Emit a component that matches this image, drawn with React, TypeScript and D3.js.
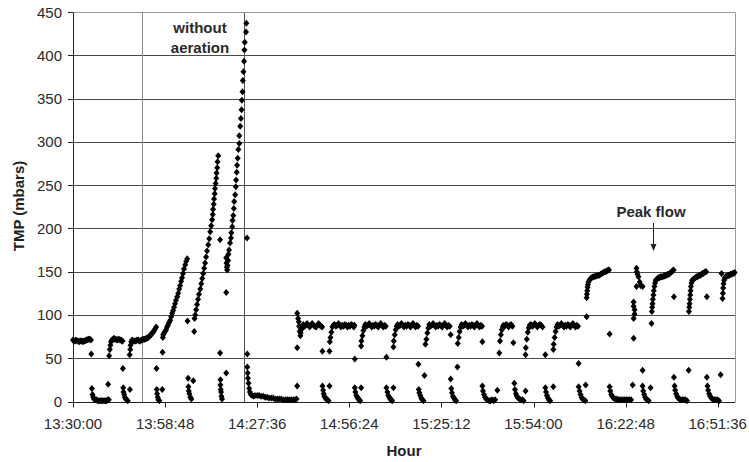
import React, { useEffect, useRef } from 'react';
import * as d3 from 'd3';

type Pt = [number, number];

// time = minutes after 13:30:00, value = TMP in mbars
const startPhase: Pt[] = [
  [0.0,71],[0.3,70],[0.6,70],[0.9,71],[1.3,70],[1.6,70],[1.9,69],[2.2,70],[2.5,70],[2.8,70],[3.1,69],[3.4,70],[3.8,70],[4.1,71],[4.4,71],[4.7,72],[5.0,72],[5.3,72],[5.6,71],
  [5.7,55],[5.9,15],[6.1,8],[6.3,5],[6.6,3],[6.9,2],[7.3,2],[7.7,1],[8.1,1],[8.5,1],[8.9,1],[9.3,1],[9.7,1],[10.1,1],[10.5,1],[10.9,2],[11.2,2],[11.0,20],
  [11.3,53],[11.5,60],[11.7,65],[11.9,69],[12.2,71],[12.5,72],[12.8,73],[13.1,72],[13.4,72],[13.8,71],[14.1,72],[14.4,72],[14.7,71],[15.0,71],[15.3,70],[15.5,70],
  [15.6,38],[15.7,16],[15.8,11],[16.0,8],[16.2,5],[16.5,3],[16.8,2],[17.1,1],[17.8,14],
  [17.7,54],[17.9,60],[18.0,65],[18.2,69],[18.5,71],[18.8,70],[19.1,70],[19.4,70],[19.7,70],[20.0,71],[20.4,71],[20.7,70],[21.0,70],[21.3,71],[21.6,71],[21.9,72],[22.2,72],[22.5,72],[22.9,73],[23.2,73],[23.5,74],[23.8,75],[24.1,76],[24.4,77],[24.7,79],[25.1,80],[25.4,82],[25.7,84],[26.0,86],
  [26.1,38],[26.2,14],[26.3,9],[26.5,5],[26.7,2],[27.0,1],[27.9,14],[28.0,57],
];

const aerationOff: Pt[] = [
  [28.1,74],[28.2,77],[28.5,79],[28.8,81],[29.1,83],[29.4,86],[29.7,88],[30.0,91],[30.4,94],[30.7,98],[31.0,102],[31.3,105],[31.6,109],[31.9,113],[32.2,117],[32.6,121],[32.9,125],[33.2,130],[33.5,134],[33.8,139],[34.1,143],[34.4,148],[34.7,153],[35.1,158],[35.4,162],[35.7,165],
  [35.8,93],[36.0,27],[36.1,17],[36.2,12],[36.4,9],[36.7,5],[37.0,3],[37.6,24],[37.9,81],
  [38.0,96],[38.2,100],[38.5,106],[38.8,112],[39.1,118],[39.4,124],[39.8,130],[40.1,136],[40.4,142],[40.7,148],[41.0,154],[41.3,160],[41.6,167],[41.9,174],[42.3,181],[42.6,188],[42.9,196],[43.2,203],[43.5,210],[43.7,216],[43.8,222],[44.0,228],[44.1,234],[44.3,240],[44.4,246],[44.6,252],[44.8,258],[44.9,264],[45.1,270],[45.2,277],[45.4,284],
  [46.0,187],[46.0,56],[46.1,25],[46.1,19],[46.2,14],[46.3,11],[46.4,6],[46.6,3],[47.9,126],[47.9,33],
  [47.9,166],[48.0,160],[48.1,155],[48.2,152],[48.3,157],[48.5,163],[48.6,170],[48.8,175],[49.1,183],[49.4,189],[49.5,195],[49.8,202],[49.9,209],[50.1,215],[50.3,223],[50.4,231],[50.7,239],[50.9,248],[51.0,256],[51.2,265],[51.3,273],[51.5,281],[51.7,291],[52.0,298],[52.0,307],[52.3,318],[52.5,327],[52.7,337],[52.8,348],[53.0,358],[53.1,371],[53.3,381],[53.5,393],[53.6,406],[53.7,415],[54.1,427],[54.2,437],
];

const recovery: Pt[] = [
  [54.4,189],[54.5,55],[54.5,40],[54.6,33],[54.7,27],[54.9,21],[55.1,15],[55.3,11],[55.6,8],[56.0,7],[56.5,6],[56.9,7],[57.6,7],[58.2,7],[58.8,6],[59.5,6],[60.1,5],[60.7,5],[61.3,4],[62.0,4],[62.6,4],[63.2,3],[63.9,3],[64.5,3],[65.1,3],[65.7,2],[66.4,2],[67.0,2],[67.6,2],[68.2,2],[68.9,2],[69.5,2],[69.9,3],
];

const normalCycles: Pt[] = [
  [70.1,18],[70.1,62],[70.1,102],[70.4,96],[70.6,92],[70.7,87],[70.9,81],[71.1,76],[71.2,79],[71.4,83],[71.7,86],[72.0,89],[72.4,87],[72.8,88],[73.2,90],[73.6,88],[74.0,86],[74.4,88],[74.8,90],[75.2,88],[75.6,87],[76.0,86],[76.4,88],[76.8,90],[77.2,88],[77.6,87],[77.9,86],
  [78.0,58],[78.0,18],[78.2,13],[78.4,9],[78.6,6],[78.9,4],[79.2,3],[79.5,2],[79.9,1],[80.2,18],[80.2,58],
  [80.3,69],[80.5,74],[80.8,80],[81.1,86],[81.4,88],[81.8,89],[82.2,87],[82.6,88],[83.0,90],[83.4,88],[83.8,86],[84.2,88],[84.6,87],[85.0,89],[85.4,88],[85.8,86],[86.2,88],[86.6,87],[87.0,89],[87.4,88],[87.8,86],[88.0,88],
  [88.1,49],[88.1,16],[88.3,11],[88.6,7],[88.9,5],[89.2,3],[89.5,2],[89.8,1],[90.1,16],[90.1,64],
  [90.2,70],[90.5,76],[90.8,82],[91.1,86],[91.4,89],[91.8,87],[92.2,88],[92.6,90],[93.0,88],[93.4,86],[93.8,88],[94.2,87],[94.6,89],[95.0,88],[95.4,86],[95.8,88],[96.2,90],[96.6,88],[97.0,86],[97.4,88],[97.8,87],
  [98.0,51],[98.0,16],[98.3,11],[98.6,7],[98.9,5],[99.2,3],[99.5,2],[99.8,1],[100.2,16],[100.2,63],
  [100.3,70],[100.6,77],[100.9,83],[101.2,87],[101.5,89],[101.9,87],[102.3,88],[102.7,90],[103.1,88],[103.5,86],[103.9,88],[104.3,87],[104.7,89],[105.1,88],[105.5,86],[105.9,88],[106.3,90],[106.7,88],[107.1,86],[107.5,88],[107.9,87],
  [108.0,43],[108.1,14],[108.3,10],[108.6,7],[108.9,4],[109.2,2],[109.6,1],[109.9,30],
  [110.2,66],[110.5,72],[110.8,79],[111.1,85],[111.4,89],[111.8,87],[112.2,88],[112.6,90],[113.0,88],[113.4,86],[113.8,88],[114.2,87],[114.6,89],[115.0,88],[115.4,86],[115.8,88],[116.2,90],[116.6,88],[117.0,86],[117.4,88],[117.8,87],
  [118.1,77],[118.1,26],[118.3,15],[118.5,10],[118.8,6],[119.1,4],[119.4,2],[119.8,1],[120.2,40],
  [120.3,67],[120.6,74],[120.9,81],[121.2,86],[121.5,89],[121.9,87],[122.3,88],[122.7,90],[123.1,88],[123.5,86],[123.9,88],[124.3,87],[124.7,89],[125.1,88],[125.5,86],[125.9,88],[126.3,90],[126.7,88],[127.1,86],[127.5,88],[127.9,87],
  [128.0,69],[128.0,18],[128.2,12],[128.5,8],[128.8,5],[129.2,3],[129.6,2],[130.1,1],[130.6,1],[131.0,2],[131.5,1],[132.0,2],[132.7,13],
  [133.3,56],[133.5,70],[133.8,77],[134.1,83],[134.4,86],[134.6,88],[135.0,87],[135.4,89],[135.8,88],[136.2,86],[136.6,88],[137.0,89],[137.4,87],
  [137.7,68],[138.0,21],[138.2,14],[138.5,9],[138.8,6],[139.2,4],[139.6,3],[140.0,2],[140.5,2],[140.9,1],[141.5,12],[141.5,54],
  [141.6,62],[141.9,72],[142.2,80],[142.5,85],[142.8,88],[143.2,89],[143.6,87],[144.0,88],[144.4,90],[144.8,88],[145.2,86],[145.6,88],[146.0,89],[146.4,88],[146.8,86],
  [147.7,54],[147.7,16],[147.9,11],[148.2,7],[148.5,4],[148.8,2],[149.2,1],[150.2,17],[150.2,60],
  [150.3,66],[150.6,74],[150.9,81],[151.2,86],[151.5,89],[151.9,87],[152.3,88],[152.7,90],[153.1,88],[153.5,86],[153.9,88],[154.3,87],[154.7,89],[155.1,88],[155.5,86],[155.9,88],[156.3,90],[156.7,88],[157.1,86],[157.5,88],[157.9,87],
  [158.1,44],[158.1,17],[158.4,12],[158.7,8],[159.0,5],[159.3,3],[159.7,2],[160.2,1],[160.3,19],
];

const peakCycles: Pt[] = [
  [160.6,98],[160.6,120],[160.7,124],[160.8,128],[160.9,132],[161.0,135],[161.2,138],[161.5,140],[161.8,142],[162.2,143],[162.6,144],[163.0,144],[163.4,145],[163.8,145],[164.2,146],[164.6,146],[165.0,147],[165.4,148],[165.8,149],[166.2,150],[166.6,150],[167.0,151],[167.3,152],[167.6,152],
  [167.8,78],[167.8,17],[168.0,12],[168.3,8],[168.6,6],[169.0,4],[169.5,3],[170.0,3],[170.5,2],[171.0,2],[171.5,2],[172.0,2],[172.5,2],[173.0,2],[173.5,2],[174.0,2],[174.5,2],[175.0,19],
  [175.3,73],[175.3,96],[175.6,101],[175.6,106],[175.3,110],[175.3,115],[176.2,154],[176.3,150],[176.5,147],[176.8,144],[177.2,138],[177.5,134],[176.2,133],[178.1,133],
  [178.1,36],[178.1,18],[178.3,12],[178.6,8],[178.9,5],[179.2,3],[179.6,2],[180.0,1],[180.6,16],[180.9,90],
  [181.0,104],[181.1,109],[181.2,113],[181.3,118],[181.5,123],[181.6,128],[181.8,133],[182.0,137],[182.2,140],[182.5,141],[182.8,142],[183.1,143],[183.4,143],[183.7,144],[184.1,144],[184.4,144],[184.7,145],[185.0,145],[185.3,146],[185.6,146],[185.9,147],[186.3,147],[186.6,148],[186.9,149],[187.2,150],[187.5,151],[187.8,152],
  [187.9,121],[187.9,28],[188.1,18],[188.3,13],[188.6,9],[188.9,6],[189.2,4],[189.6,3],[190.0,2],[190.5,2],[191.0,2],[191.5,2],[192.0,1],[192.5,36],
  [192.6,104],[192.7,109],[192.8,113],[192.9,118],[193.0,123],[193.1,128],[193.2,133],[193.4,137],[193.6,140],[193.9,141],[194.3,142],[194.6,143],[194.9,144],[195.2,144],[195.5,145],[195.9,146],[196.2,146],[196.5,147],[196.8,148],[197.1,148],[197.4,149],[197.7,150],[198.0,150],
  [198.2,121],[198.2,28],[198.4,18],[198.6,13],[198.9,9],[199.2,6],[199.6,4],[200.0,3],[200.5,2],[201.0,2],[201.5,2],[202.0,1],[202.5,31],[202.8,148],[203.1,119],
  [203.2,125],[203.3,131],[203.4,136],[203.6,140],[203.8,143],[204.1,144],[204.4,145],[204.7,145],[205.0,146],[205.3,146],[205.6,147],[206.0,147],[206.3,148],[206.6,148],[206.9,149],
];

const xTickLabels = ['13:30:00', '13:58:48', '14:27:36', '14:56:24', '15:25:12', '15:54:00', '16:22:48', '16:51:36'];
const yTicks = [0, 50, 100, 150, 200, 250, 300, 350, 400, 450];
// vertical markers (minutes after 13:30)
const eventLines = [21.5, 53.6];

const FONT = "Arial, 'Liberation Sans', Helvetica, sans-serif";

const toMinutes = (label: string) => {
  const [h, m, s] = label.split(':').map(Number);
  return h * 60 + m + s / 60 - (13 * 60 + 30);
};

export default function App() {
  const svgRef = useRef<SVGSVGElement>(null);

  useEffect(() => {
    const svg = d3.select(svgRef.current);
    svg.selectAll('*').remove();

    const left = 73, right = 735, top = 12, bottom = 401.5;
    const x = d3.scaleLinear().domain([0, 207]).range([left, right]);
    const y = d3.scaleLinear().domain([0, 450]).range([bottom, top]);
    const snap = (v: number) => Math.round(v) + 0.5;

    // horizontal gridlines
    svg.append('g')
      .selectAll('line')
      .data(yTicks.filter(d => d > 0))
      .enter()
      .append('line')
      .attr('x1', left)
      .attr('x2', right)
      .attr('y1', d => snap(y(d)))
      .attr('y2', d => snap(y(d)))
      .attr('stroke', d => (d === 450 ? '#999' : '#4a4a4a'))
      .attr('stroke-width', 1);

    // right border
    svg.append('line')
      .attr('x1', snap(right)).attr('x2', snap(right))
      .attr('y1', snap(y(450))).attr('y2', snap(y(0)))
      .attr('stroke', '#999');

    // event lines
    svg.append('g')
      .selectAll('line')
      .data(eventLines)
      .enter()
      .append('line')
      .attr('x1', d => snap(x(d)))
      .attr('x2', d => snap(x(d)))
      .attr('y1', snap(y(450)))
      .attr('y2', snap(y(0)))
      .attr('stroke', (d, i) => (i === 0 ? '#8a8a8a' : '#555'));

    // axes
    const axisG = svg.append('g').attr('stroke', '#222');
    axisG.append('line')
      .attr('x1', snap(left)).attr('x2', snap(left))
      .attr('y1', snap(y(450))).attr('y2', snap(y(0)));
    axisG.append('line')
      .attr('x1', left).attr('x2', right)
      .attr('y1', snap(y(0))).attr('y2', snap(y(0)));

    yTicks.forEach(v => {
      axisG.append('line')
        .attr('x1', left - 5).attr('x2', left)
        .attr('y1', snap(y(v))).attr('y2', snap(y(v)));
      svg.append('text')
        .attr('x', left - 11)
        .attr('y', y(v) + 5.5)
        .attr('text-anchor', 'end')
        .attr('font-family', FONT)
        .attr('font-size', 15)
        .attr('fill', '#2a2a2a')
        .text(v);
    });

    xTickLabels.forEach(label => {
      const px = x(toMinutes(label));
      axisG.append('line')
        .attr('x1', snap(px)).attr('x2', snap(px))
        .attr('y1', snap(y(0))).attr('y2', snap(y(0)) + 5);
      svg.append('text')
        .attr('x', px)
        .attr('y', 429)
        .attr('text-anchor', 'middle')
        .attr('font-family', FONT)
        .attr('font-size', 15)
        .attr('fill', '#2a2a2a')
        .text(label);
    });

    // axis titles
    svg.append('text')
      .attr('x', 404)
      .attr('y', 456)
      .attr('text-anchor', 'middle')
      .attr('font-family', FONT)
      .attr('font-size', 15)
      .attr('font-weight', 'bold')
      .attr('fill', '#222')
      .text('Hour');

    svg.append('text')
      .attr('transform', 'translate(24,206) rotate(-90)')
      .attr('text-anchor', 'middle')
      .attr('font-family', FONT)
      .attr('font-size', 15)
      .attr('font-weight', 'bold')
      .attr('fill', '#222')
      .text('TMP (mbars)');

    // data markers
    const allPoints = [...startPhase, ...aerationOff, ...recovery, ...normalCycles, ...peakCycles];
    const diamond = 'M0,-3.5L3,0L0,3.5L-3,0Z';
    svg.append('g')
      .attr('fill', '#000')
      .selectAll('path')
      .data(allPoints)
      .enter()
      .append('path')
      .attr('d', diamond)
      .attr('transform', d => `translate(${x(d[0])},${y(d[1])})`);

    // annotations
    const note = svg.append('g')
      .attr('font-family', FONT)
      .attr('font-size', 15)
      .attr('font-weight', 'bold')
      .attr('fill', '#2a2a2a')
      .attr('text-anchor', 'middle');
    note.append('text').attr('x', 200).attr('y', 33).text('without');
    note.append('text').attr('x', 200).attr('y', 53).text('aeration');
    note.append('text').attr('x', 651).attr('y', 216.5).text('Peak flow');

    const ax = 653.5;
    svg.append('line')
      .attr('x1', ax).attr('x2', ax)
      .attr('y1', 223).attr('y2', 245)
      .attr('stroke', '#222');
    svg.append('path')
      .attr('d', `M${ax - 3},244L${ax + 3},244L${ax},251Z`)
      .attr('fill', '#222');
  }, []);

  return (
    <svg
      ref={svgRef}
      width={749}
      height={462}
      style={{ position: 'absolute', left: 0, top: 0, background: '#fff' }}
    />
  );
}
